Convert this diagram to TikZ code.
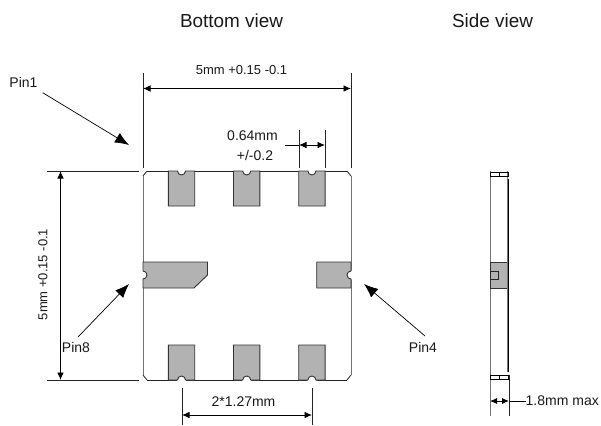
\documentclass[tikz,border=0pt]{standalone}
\usepackage{fontspec}
\setmainfont{Liberation Sans}
\usetikzlibrary{arrows.meta}
\definecolor{padgrey}{RGB}{178,178,178}
\tikzset{
 x=1pt,y=-1pt,
 lab/.style={inner sep=0pt,font=\fontsize{14}{16}\selectfont,text=black!90},
 dimlab/.style={inner sep=0pt,font=\fontsize{13}{15}\selectfont,text=black!90},
 ttl/.style={inner sep=0pt,font=\fontsize{18.9}{21}\selectfont,text=black!90},
 ext/.style={line width=0.8pt,black!85},
 edge/.style={line width=1pt,black!55},
 dim/.style={line width=0.9pt,{Latex[length=7.5pt,width=6.5pt]}-{Latex[length=7.5pt,width=6.5pt]}},
 lead/.style={line width=0.7pt,-{Latex[length=14pt,width=11pt]}},
 pad/.style={fill=padgrey,draw=black!80,line width=0.9pt},
}
\begin{document}
\begin{tikzpicture}
\useasboundingbox (0,0) rectangle (601,425);
% package outline
\draw[ext] (147,171) -- (347,171);
\draw[ext] (147,380) -- (347,380);
\draw[edge] (143,176) -- (143,375);
\draw[edge] (351,176) -- (351,375);
\draw[ext] (143,176) -- (147,171) (347,171) -- (351,176) (143,375) -- (147,380) (347,380) -- (351,375);
% top pads
\foreach \a in {168.3,233.5,298.7}{
 \fill[white] ({\a+13.2},171) circle[radius=4.6];
 \draw[pad] (\a,171) -- ({\a+9.2},171) arc[start angle=180,end angle=0,radius=4] -- ({\a+26.4},171) -- ({\a+26.4},206) -- (\a,206) -- cycle;
}
% bottom pads
\foreach \a in {168.3,233.5,298.7}{
 \fill[white] ({\a+13.2},380) circle[radius=4.6];
 \draw[pad] (\a,380) -- ({\a+9.2},380) arc[start angle=180,end angle=360,radius=4] -- ({\a+26.4},380) -- ({\a+26.4},345) -- (\a,345) -- cycle;
}
% side pads
\fill[white] (143,275) circle[radius=4.6];
\fill[white] (351,275) circle[radius=4.6];
\draw[pad] (143,262) -- (207.5,262) -- (207.5,275) -- (194,288) -- (143,288) -- (143,279) arc[start angle=90,end angle=-90,radius=4] -- cycle;
\draw[pad] (351,262) -- (316.7,262) -- (316.7,288) -- (351,288) -- (351,279) arc[start angle=90,end angle=270,radius=4] -- cycle;
% dimension helpers
\coordinate (tdL) at (143,88.5); \coordinate (tdR) at (351,88.5);
\draw[ext] (143,73) -- (143,168) (351,73) -- (351,168);
\draw[dim] (tdL) -- (tdR);
\node[dimlab] (t5) at (241.5,70) {5mm +0.15 -0.1};
\draw[ext] (299,130) -- (299,168) (325,130) -- (325,168);
\coordinate (wS) at (285,145); \coordinate (wA) at (299,145); \coordinate (wB) at (325,145);
\draw[line width=0.9pt] (wS) -- (wA);
\draw[dim] (wA) -- (wB);
\node[lab] (w1) at (252.5,136) {0.64mm};
\node[lab] (w2) at (255,155) {+/-0.2};
\draw[ext] (47,171) -- (139,171) (47,380) -- (139,380);
\coordinate (ldT) at (60.5,171); \coordinate (ldB) at (60.5,380);
\draw[dim] (ldT) -- (ldB);
\node[dimlab,rotate=90] (l5) at (43,274.5) {5mm +0.15 -0.1};
\draw[ext] (182,388) -- (182,425) (312,388) -- (312,425);
\coordinate (bdL) at (182,415); \coordinate (bdR) at (312,415);
\draw[dim] (bdL) -- (bdR);
\node[lab] (b2) at (243.5,401.5) {2*1.27mm};
% pins
\node[lab] (p1) at (23.5,82) {Pin1};
\node[lab] (p8) at (76,347) {Pin8};
\node[lab] (p4) at (423,347) {Pin4};
\coordinate (p1a) at (42.7,92.7); \coordinate (p1b) at (129,145);
\coordinate (p8a) at (78,337); \coordinate (p8b) at (129,284);
\coordinate (p4a) at (425,336); \coordinate (p4b) at (364,284);
\draw[lead] (p1a) -- (p1b);
\draw[lead] (p8a) -- (p8b);
\draw[lead] (p4a) -- (p4b);
% side view
\draw[edge] (490,171) -- (490,416);
\draw[pad] (490,262) rectangle (507.5,288);
\draw[ext] (490,271) rectangle (498.5,279);
\draw[edge] (507.5,171) -- (507.5,372);
\draw[line width=1pt] (508.5,179) -- (508.5,372);
\draw[line width=0.8pt,black] (490,172) rectangle (508,176);
\draw[line width=0.8pt,black] (499,172) -- (499,176);
\draw[line width=0.7pt,black] (490,375) rectangle (508,379.5);
\draw[line width=0.7pt,black] (499,375) -- (499,379.5);
\draw[ext] (509,375) -- (509,416);
\coordinate (sA) at (490,401); \coordinate (sB) at (509,401);
\draw[line width=0.9pt,{Latex[length=7pt,width=6pt]}-{Latex[length=7pt,width=6pt]}] (sA) -- (sB);
\node[lab,anchor=west] (s1) at (525.5,401) {1.8mm max};
\draw[line width=0.8pt] (sB) -- (s1.west);
% titles
\node[ttl] (tb) at (231.5,21) {Bottom view};
\node[ttl] (ts) at (492.5,21) {Side view};
\end{tikzpicture}
\end{document}
